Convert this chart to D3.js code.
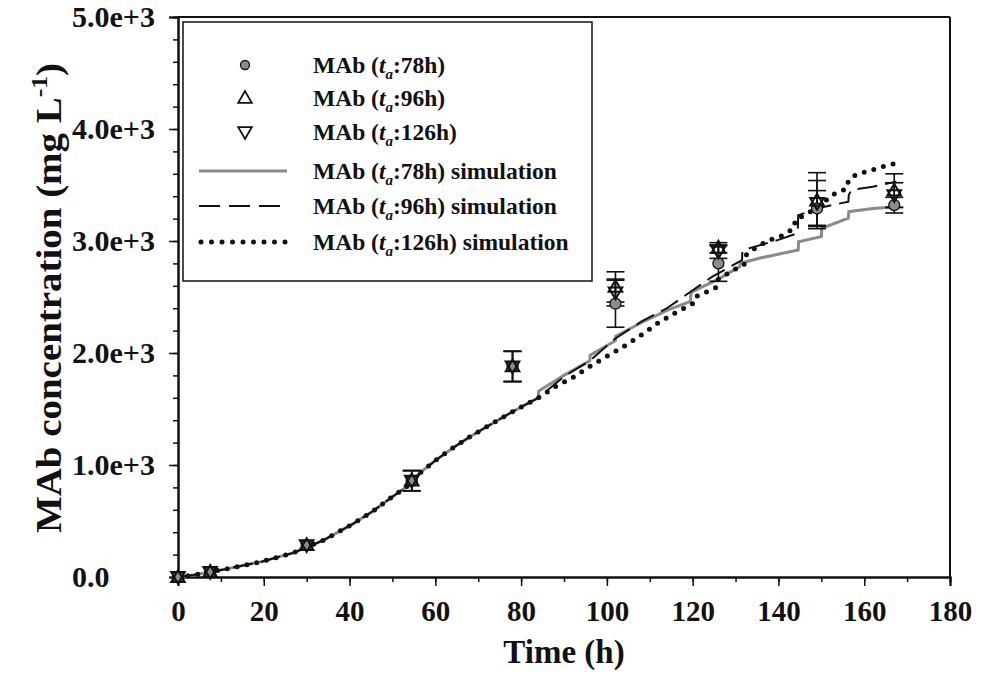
<!DOCTYPE html>
<html>
<head>
<meta charset="utf-8">
<script src="https://cdn.jsdelivr.net/npm/d3@7"></script>
<style>
  body { margin: 0; background: #fff; }
  svg { display: block; }
  text { font-family: "Liberation Serif", "Times New Roman", serif; font-weight: bold; fill: #111; }
</style>
</head>
<body>
<div id="chart"></div>
<script>
// MAb concentration vs time, three ammonium addition times

// measured points
const times = [0, 7.5, 30, 54.5, 78, 102, 126, 149, 167];
const mab78 = [0, 45, 285, 860, 1880, 2440, 2800, 3290, 3320];
const mab96 = [0, 45, 285, 860, 1880, 2590, 2940, 3360, 3450];
const mab126 = [0, 45, 285, 860, 1880, 2540, 2905, 3340, 3410];
const err78 = [0, 0, 0, 90, 135, 210, 160, 160, 70];
const err96 = [0, 0, 0, 90, 135, 135, 45, 250, 150];
const err126 = [0, 0, 0, 90, 135, 120, 60, 200, 110];

// simulations (shared part up to ~84 h)
const simBase = [[0, 0], [3.6, 18], [7.5, 45], [12, 77], [19.5, 137], [27, 217], [34, 330], [41, 479],
  [45.5, 589], [50, 717], [53.3, 806], [56.4, 929], [60, 1040], [64, 1150], [68, 1250], [72, 1342],
  [78, 1476], [84, 1600]];
const sim78 = [[84.1, 1660], [90, 1800], [96, 1930], [96.1, 1980], [102, 2110], [102.1, 2150], [108, 2270],
  [114, 2380], [119.5, 2460], [119.6, 2540], [126, 2660], [131, 2771], [131.1, 2801], [136, 2850],
  [141, 2890], [144.6, 2920], [144.7, 2994], [150, 3039], [150.1, 3113], [156.3, 3203], [156.4, 3262],
  [162, 3290], [168, 3306]];
const sim96 = [[90, 1790], [96, 1930], [102, 2130], [108, 2280], [114, 2400], [120, 2560], [124.5, 2680],
  [126, 2710], [131.5, 2830], [131.6, 2915], [134.5, 2950], [140, 3010], [144.5, 3070], [144.6, 3230],
  [150, 3300], [156.3, 3351], [156.4, 3411], [157, 3455], [162, 3485], [167.5, 3530]];
const sim126 = [[88, 1700], [92, 1780], [96, 1880], [100, 1970], [104, 2060], [108, 2160], [112, 2270],
  [116, 2360], [120, 2440], [120.5, 2500], [123, 2540], [125.8, 2590], [126, 2660], [129, 2730],
  [132, 2790], [132.3, 2870], [135, 2950], [138, 3010], [141, 3050], [143.5, 3110], [144, 3190],
  [147, 3250], [150, 3330], [153, 3420], [156, 3470], [156.3, 3540], [158, 3590], [161, 3625],
  [164, 3660], [167, 3690]];

const xTicks = [0, 20, 40, 60, 80, 100, 120, 140, 160, 180];
const yTicks = [0, 1000, 2000, 3000, 4000, 5000];
const legendLabels = ["78h", "96h", "126h"];

const W = 981, H = 696;
const svg = d3.select("#chart").append("svg").attr("width", W).attr("height", H);

const x = d3.scaleLinear().domain([0, 180]).range([178, 950]);
const y = d3.scaleLinear().domain([0, 5000]).range([577, 17]);

// frame
svg.append("line").attr("x1", x(0)).attr("x2", x(180)).attr("y1", y(5000)).attr("y2", y(5000))
  .attr("stroke", "#111").attr("stroke-width", 2);
svg.append("line").attr("x1", x(180)).attr("x2", x(180)).attr("y1", y(5000)).attr("y2", y(0))
  .attr("stroke", "#111").attr("stroke-width", 2);

// axes with minor ticks
const xMinor = d3.axisBottom(x).tickValues(d3.range(0, 181, 10)).tickSize(5).tickFormat("");
const xMajor = d3.axisBottom(x).tickValues(xTicks).tickSize(9).tickFormat(d3.format("d"));
const yMinor = d3.axisLeft(y).tickValues(d3.range(0, 5001, 200)).tickSize(5).tickFormat("");
const yMajor = d3.axisLeft(y).tickValues(yTicks).tickSize(9)
  .tickFormat(d => d === 0 ? "0.0" : (d / 1000).toFixed(1) + "e+3");

svg.append("g").attr("transform", `translate(0,${y(0)})`).call(xMinor);
const gx = svg.append("g").attr("transform", `translate(0,${y(0)})`).call(xMajor);
svg.append("g").attr("transform", `translate(${x(0)},0)`).call(yMinor);
const gy = svg.append("g").attr("transform", `translate(${x(0)},0)`).call(yMajor);

svg.selectAll(".domain").attr("stroke", "#111").attr("stroke-width", 2);
svg.selectAll(".tick line").attr("stroke", "#111").attr("stroke-width", 1.5);
svg.selectAll(".tick text").attr("font-family", "Liberation Serif").attr("font-weight", "bold")
  .attr("fill", "#111");
gx.selectAll(".tick text").attr("font-size", 29).attr("y", 16).attr("dy", "0.95em");
// y labels are left-aligned in the original
gy.selectAll(".tick text").attr("font-size", 30).attr("text-anchor", "start").attr("x", 72 - x(0));

// axis titles
svg.append("text").attr("x", (x(0) + x(180)) / 2).attr("y", 663).attr("text-anchor", "middle")
  .attr("font-size", 33).text("Time (h)");
const yt = svg.append("text").attr("transform", `translate(61,298) rotate(-90)`)
  .attr("text-anchor", "middle").attr("font-size", 35)
  .attr("textLength", 470).attr("lengthAdjust", "spacingAndGlyphs");
yt.append("tspan").text("MAb concentration (mg  L");
yt.append("tspan").attr("font-size", 23).attr("dy", -14).text("-1");
yt.append("tspan").attr("dy", 14).text(")");

// simulation curves
const line = d3.line().x(d => x(d[0])).y(d => y(d[1]));
svg.append("path").datum(simBase.concat(sim78)).attr("d", line)
  .attr("fill", "none").attr("stroke", "#8a8a8a").attr("stroke-width", 3);
svg.append("path").datum(simBase.concat(sim96)).attr("d", line)
  .attr("fill", "none").attr("stroke", "#111").attr("stroke-width", 2).attr("stroke-dasharray", "20 8");
svg.append("path").datum(simBase.concat(sim126)).attr("d", line)
  .attr("fill", "none").attr("stroke", "#111").attr("stroke-width", 5)
  .attr("stroke-linecap", "round").attr("stroke-dasharray", "0 10");

// error bars
function errorBars(vals, errs) {
  const g = svg.append("g").attr("stroke", "#111").attr("stroke-width", 1.6);
  times.forEach((t, i) => {
    if (!errs[i]) return;
    const cx = x(t), y1 = y(vals[i] - errs[i]), y2 = y(vals[i] + errs[i]);
    g.append("line").attr("x1", cx).attr("x2", cx).attr("y1", y1).attr("y2", y2);
    g.append("line").attr("x1", cx - 9).attr("x2", cx + 9).attr("y1", y1).attr("y2", y1);
    g.append("line").attr("x1", cx - 9).attr("x2", cx + 9).attr("y1", y2).attr("y2", y2);
  });
}
errorBars(mab78, err78);
errorBars(mab96, err96);
errorBars(mab126, err126);

// markers
const tri = d3.symbol().type(d3.symbolTriangle).size(80);
svg.append("g").selectAll("circle").data(times).join("circle")
  .attr("cx", d => x(d)).attr("cy", (d, i) => y(mab78[i])).attr("r", 5.5)
  .attr("fill", "#8c8c8c").attr("stroke", "#111").attr("stroke-width", 1.3);
svg.append("g").selectAll("path").data(times).join("path")
  .attr("d", tri).attr("transform", (d, i) => `translate(${x(d)},${y(mab96[i]) + 1})`)
  .attr("fill", "none").attr("stroke", "#111").attr("stroke-width", 2);
svg.append("g").selectAll("path").data(times).join("path")
  .attr("d", tri).attr("transform", (d, i) => `translate(${x(d)},${y(mab126[i]) - 1}) rotate(180)`)
  .attr("fill", "none").attr("stroke", "#111").attr("stroke-width", 2);

// legend
const lg = svg.append("g");
lg.append("rect").attr("x", 183).attr("y", 22).attr("width", 409).attr("height", 259)
  .attr("fill", "#fff").attr("stroke", "#111").attr("stroke-width", 1.5);
const rows = [65, 98, 132, 171, 206, 242];
function legendText(yy, lab, sim) {
  const t = lg.append("text").attr("x", 313).attr("y", yy + 8).attr("font-size", 23.5);
  t.append("tspan").text("MAb (");
  t.append("tspan").attr("font-style", "italic").text("t");
  t.append("tspan").attr("font-style", "italic").attr("font-size", 15).attr("dy", 6).text("a");
  t.append("tspan").attr("dy", -6).text(":" + lab + ")" + (sim ? " simulation" : ""));
}
legendLabels.forEach((lab, i) => legendText(rows[i], lab, false));
legendLabels.forEach((lab, i) => legendText(rows[i + 3], lab, true));
lg.append("circle").attr("cx", 245).attr("cy", rows[0]).attr("r", 4.5)
  .attr("fill", "#8c8c8c").attr("stroke", "#111").attr("stroke-width", 1.3);
lg.append("path").attr("d", tri).attr("transform", `translate(245,${rows[1] + 1})`)
  .attr("fill", "none").attr("stroke", "#111").attr("stroke-width", 1.8);
lg.append("path").attr("d", tri).attr("transform", `translate(245,${rows[2] - 1}) rotate(180)`)
  .attr("fill", "none").attr("stroke", "#111").attr("stroke-width", 1.8);
lg.append("line").attr("x1", 199).attr("x2", 287).attr("y1", rows[3]).attr("y2", rows[3])
  .attr("stroke", "#8a8a8a").attr("stroke-width", 3);
lg.append("line").attr("x1", 199).attr("x2", 287).attr("y1", rows[4]).attr("y2", rows[4])
  .attr("stroke", "#111").attr("stroke-width", 2).attr("stroke-dasharray", "21 9");
lg.append("line").attr("x1", 201).attr("x2", 287).attr("y1", rows[5]).attr("y2", rows[5])
  .attr("stroke", "#111").attr("stroke-width", 5).attr("stroke-linecap", "round").attr("stroke-dasharray", "0 10.5");
</script>
</body>
</html>
